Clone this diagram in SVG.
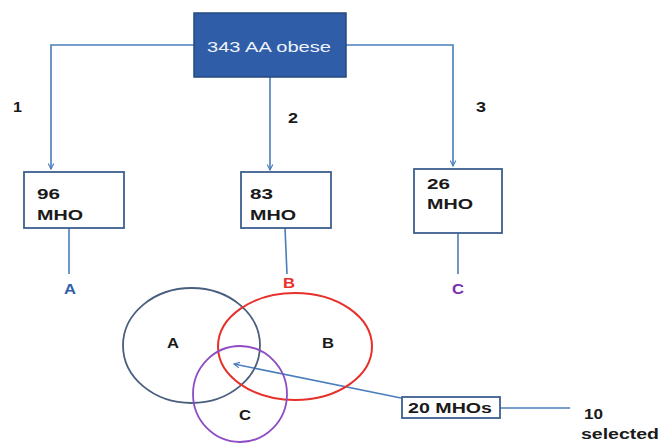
<svg xmlns="http://www.w3.org/2000/svg" width="662" height="443" viewBox="0 0 662 443">
<defs>
<marker id="ah" viewBox="0 0 10 10" refX="9" refY="5" markerWidth="7" markerHeight="7" orient="auto-start-reverse" markerUnits="userSpaceOnUse">
<path d="M1,1 L9,5 L1,9" fill="none" stroke="#4A7EBB" stroke-width="1.6"/>
</marker>
<style>
.ln{fill:none;stroke:#4A7EBB;stroke-width:1.6}
.box{fill:#FFFFFF;stroke:#3C5F8E;stroke-width:1.8}
.t{font-family:"Liberation Sans",Arial,sans-serif;font-weight:bold;font-size:15px;fill:#1A1A1A}
</style>
</defs>
<rect width="662" height="443" fill="#FFFFFF"/>
<g id="connectors">
<polyline class="ln" points="194,45 51,45 51,169" marker-end="url(#ah)"/>
<polyline class="ln" points="346,45 453,45 453,166" marker-end="url(#ah)"/>
<line class="ln" x1="270" y1="77" x2="270" y2="170" marker-end="url(#ah)"/>
<line class="ln" x1="69" y1="228" x2="69" y2="274"/>
<line class="ln" x1="285" y1="228" x2="287" y2="274"/>
<line class="ln" x1="458" y1="233" x2="458" y2="274"/>
<line class="ln" x1="401" y1="398" x2="234" y2="364" marker-end="url(#ah)"/>
<line class="ln" x1="500" y1="408" x2="570" y2="408"/>
</g>
<g id="n-top">
<rect x="194" y="13" width="152" height="64" fill="#2F5DA8" stroke="#24497F" stroke-width="1.5"/>
<text x="207" y="52" font-family="Liberation Sans,Arial,sans-serif" font-size="15" fill="#EEF2FA" textLength="124" lengthAdjust="spacingAndGlyphs">343 AA obese</text>
</g>
<g id="lbl-1"><text class="t" x="13" y="112" textLength="9" lengthAdjust="spacingAndGlyphs">1</text></g>
<g id="lbl-2"><text class="t" x="288" y="123" textLength="10" lengthAdjust="spacingAndGlyphs">2</text></g>
<g id="lbl-3"><text class="t" x="476" y="112" textLength="10" lengthAdjust="spacingAndGlyphs">3</text></g>
<g id="n-96">
<rect class="box" x="24" y="172" width="100" height="56"/>
<text class="t" x="37" y="199" textLength="23" lengthAdjust="spacingAndGlyphs">96</text>
<text class="t" x="37" y="220" textLength="46" lengthAdjust="spacingAndGlyphs">MHO</text>
</g>
<g id="n-83">
<rect class="box" x="241" y="172" width="90" height="56"/>
<text class="t" x="250" y="199" textLength="23" lengthAdjust="spacingAndGlyphs">83</text>
<text class="t" x="250" y="220" textLength="46" lengthAdjust="spacingAndGlyphs">MHO</text>
</g>
<g id="n-26">
<rect class="box" x="414" y="169" width="88" height="64"/>
<text class="t" x="427" y="189" textLength="23" lengthAdjust="spacingAndGlyphs">26</text>
<text class="t" x="427" y="209" textLength="46" lengthAdjust="spacingAndGlyphs">MHO</text>
</g>
<g id="lbl-A"><text class="t" x="70" y="294" text-anchor="middle" style="fill:#2E5EA8" textLength="12" lengthAdjust="spacingAndGlyphs">A</text></g>
<g id="lbl-B"><text class="t" x="289" y="288" text-anchor="middle" style="fill:#E8302A" textLength="12" lengthAdjust="spacingAndGlyphs">B</text></g>
<g id="lbl-C"><text class="t" x="458" y="294" text-anchor="middle" style="fill:#7A2FB0" textLength="12" lengthAdjust="spacingAndGlyphs">C</text></g>
<g id="set-A">
<ellipse cx="191.5" cy="345.5" rx="68.5" ry="57.5" fill="none" stroke="#4A5E7E" stroke-width="1.8"/>
<text class="t" x="173" y="348" text-anchor="middle" textLength="12" lengthAdjust="spacingAndGlyphs">A</text>
</g>
<g id="set-B">
<ellipse cx="295" cy="346.5" rx="77" ry="53.5" fill="none" stroke="#E8302A" stroke-width="2"/>
<text class="t" x="328" y="348" text-anchor="middle" textLength="12" lengthAdjust="spacingAndGlyphs">B</text>
</g>
<g id="set-C">
<ellipse cx="240" cy="394" rx="47" ry="48" fill="none" stroke="#8E4CC4" stroke-width="1.8"/>
<text class="t" x="245" y="420" text-anchor="middle" textLength="12" lengthAdjust="spacingAndGlyphs">C</text>
</g>
<g id="n-20">
<rect class="box" x="402" y="397" width="98" height="21"/>
<text class="t" x="408" y="413" textLength="84" lengthAdjust="spacingAndGlyphs">20 MHOs</text>
</g>
<g id="n-10">
<text class="t" x="584" y="419" textLength="19" lengthAdjust="spacingAndGlyphs">10</text>
<text class="t" x="581" y="439" style="font-size:14px" textLength="78" lengthAdjust="spacingAndGlyphs">selected</text>
</g>
</svg>
